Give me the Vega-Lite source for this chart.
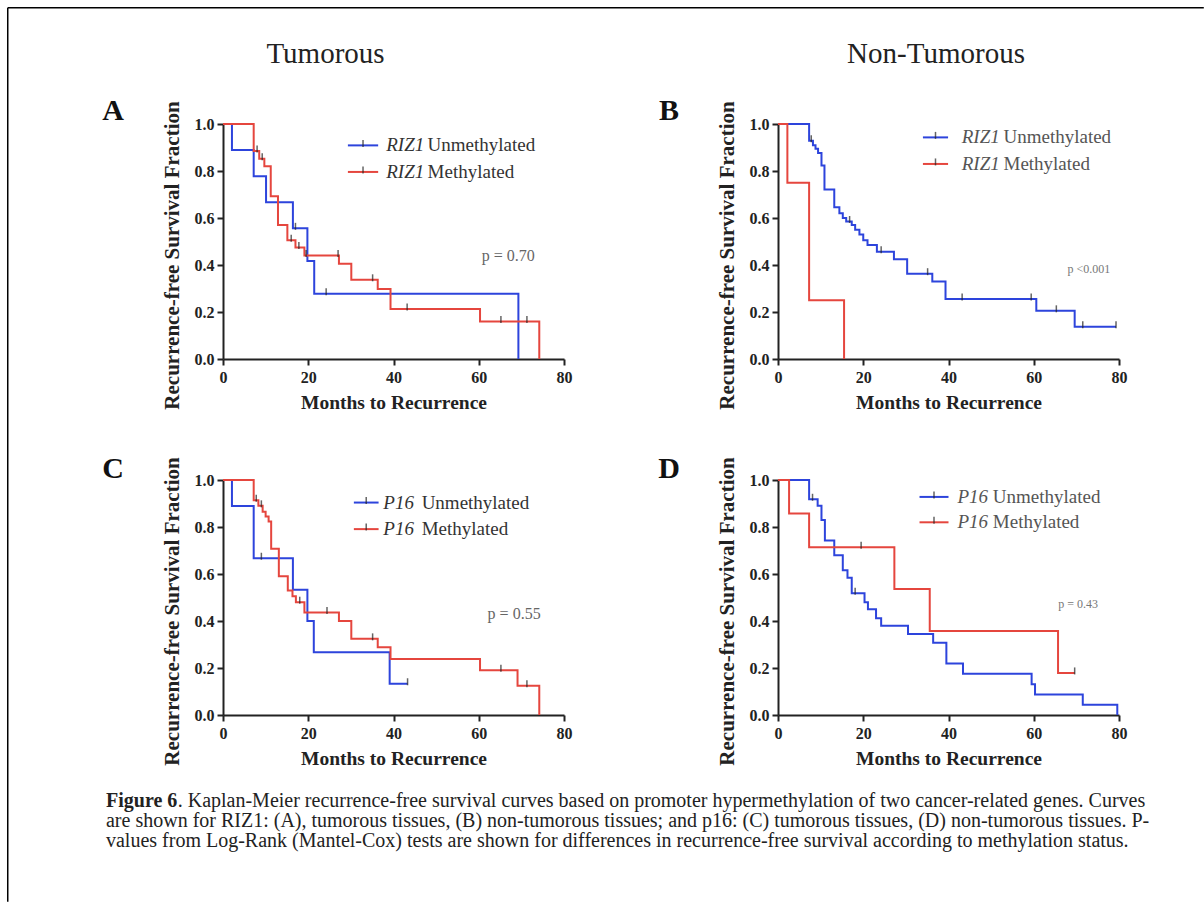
{
"$schema":"https://vega.github.io/schema/vega-lite/v6.json",
"padding":{"left":6,"top":6,"right":0,"bottom":0},
"background":"white",
"bounds":"flush",
"columns":2,
"spacing":{"row":121,"column":214},
"datasets":{
"km":[
{"panel":"A","group":"Unmethylated","t":0,"s":1},{"panel":"A","group":"Unmethylated","t":2.1,"s":0.889},{"panel":"A","group":"Unmethylated","t":7.2,"s":0.778},{"panel":"A","group":"Unmethylated","t":10.1,"s":0.667},{"panel":"A","group":"Unmethylated","t":16.4,"s":0.556},{"panel":"A","group":"Unmethylated","t":19.8,"s":0.417},{"panel":"A","group":"Unmethylated","t":21.4,"s":0.278},{"panel":"A","group":"Unmethylated","t":69.3,"s":0},
{"panel":"A","group":"Methylated","t":0,"s":1},{"panel":"A","group":"Methylated","t":7.2,"s":0.885},{"panel":"A","group":"Methylated","t":8.5,"s":0.852},{"panel":"A","group":"Methylated","t":9.7,"s":0.82},{"panel":"A","group":"Methylated","t":11.2,"s":0.693},{"panel":"A","group":"Methylated","t":12.9,"s":0.57},{"panel":"A","group":"Methylated","t":15.1,"s":0.505},{"panel":"A","group":"Methylated","t":17.0,"s":0.475},{"panel":"A","group":"Methylated","t":19.1,"s":0.44},{"panel":"A","group":"Methylated","t":27.2,"s":0.405},{"panel":"A","group":"Methylated","t":30.1,"s":0.337},{"panel":"A","group":"Methylated","t":36.3,"s":0.298},{"panel":"A","group":"Methylated","t":39.3,"s":0.213},{"panel":"A","group":"Methylated","t":60.3,"s":0.16},{"panel":"A","group":"Methylated","t":74.2,"s":0},
{"panel":"B","group":"Unmethylated","t":0,"s":1},{"panel":"B","group":"Unmethylated","t":7.3,"s":0.929},{"panel":"B","group":"Unmethylated","t":8.2,"s":0.91},{"panel":"B","group":"Unmethylated","t":8.8,"s":0.895},{"panel":"B","group":"Unmethylated","t":9.4,"s":0.877},{"panel":"B","group":"Unmethylated","t":10.2,"s":0.823},{"panel":"B","group":"Unmethylated","t":10.9,"s":0.721},{"panel":"B","group":"Unmethylated","t":13.2,"s":0.646},{"panel":"B","group":"Unmethylated","t":14.4,"s":0.62},{"panel":"B","group":"Unmethylated","t":15.2,"s":0.6},{"panel":"B","group":"Unmethylated","t":16.0,"s":0.585},{"panel":"B","group":"Unmethylated","t":17.3,"s":0.57},{"panel":"B","group":"Unmethylated","t":18.1,"s":0.55},{"panel":"B","group":"Unmethylated","t":19.1,"s":0.53},{"panel":"B","group":"Unmethylated","t":20.0,"s":0.505},{"panel":"B","group":"Unmethylated","t":21.0,"s":0.485},{"panel":"B","group":"Unmethylated","t":23.2,"s":0.456},{"panel":"B","group":"Unmethylated","t":27.2,"s":0.424},{"panel":"B","group":"Unmethylated","t":30.3,"s":0.363},{"panel":"B","group":"Unmethylated","t":36.2,"s":0.33},{"panel":"B","group":"Unmethylated","t":39.3,"s":0.255},{"panel":"B","group":"Unmethylated","t":60.6,"s":0.205},{"panel":"B","group":"Unmethylated","t":69.6,"s":0.137},{"panel":"B","group":"Unmethylated","t":79.3,"s":0.137},
{"panel":"B","group":"Methylated","t":0,"s":1},{"panel":"B","group":"Methylated","t":2.2,"s":0.75},{"panel":"B","group":"Methylated","t":7.3,"s":0.25},{"panel":"B","group":"Methylated","t":15.5,"s":0},
{"panel":"C","group":"Unmethylated","t":0,"s":1},{"panel":"C","group":"Unmethylated","t":2.1,"s":0.889},{"panel":"C","group":"Unmethylated","t":7.2,"s":0.667},{"panel":"C","group":"Unmethylated","t":16.4,"s":0.533},{"panel":"C","group":"Unmethylated","t":19.8,"s":0.4},{"panel":"C","group":"Unmethylated","t":21.3,"s":0.267},{"panel":"C","group":"Unmethylated","t":39.1,"s":0.133},{"panel":"C","group":"Unmethylated","t":43.3,"s":0.133},
{"panel":"C","group":"Methylated","t":0,"s":1},{"panel":"C","group":"Methylated","t":7.2,"s":0.914},{"panel":"C","group":"Methylated","t":8.3,"s":0.89},{"panel":"C","group":"Methylated","t":9.3,"s":0.865},{"panel":"C","group":"Methylated","t":10.0,"s":0.845},{"panel":"C","group":"Methylated","t":10.7,"s":0.823},{"panel":"C","group":"Methylated","t":11.3,"s":0.707},{"panel":"C","group":"Methylated","t":13.1,"s":0.59},{"panel":"C","group":"Methylated","t":15.2,"s":0.53},{"panel":"C","group":"Methylated","t":16.3,"s":0.505},{"panel":"C","group":"Methylated","t":17.1,"s":0.48},{"panel":"C","group":"Methylated","t":19.1,"s":0.436},{"panel":"C","group":"Methylated","t":27.2,"s":0.4},{"panel":"C","group":"Methylated","t":30.1,"s":0.324},{"panel":"C","group":"Methylated","t":36.3,"s":0.288},{"panel":"C","group":"Methylated","t":39.3,"s":0.238},{"panel":"C","group":"Methylated","t":60.3,"s":0.19},{"panel":"C","group":"Methylated","t":69.1,"s":0.124},{"panel":"C","group":"Methylated","t":74.2,"s":0},
{"panel":"D","group":"Unmethylated","t":0,"s":1},{"panel":"D","group":"Unmethylated","t":7.3,"s":0.918},{"panel":"D","group":"Unmethylated","t":9.3,"s":0.89},{"panel":"D","group":"Unmethylated","t":10.2,"s":0.83},{"panel":"D","group":"Unmethylated","t":11.0,"s":0.743},{"panel":"D","group":"Unmethylated","t":13.2,"s":0.68},{"panel":"D","group":"Unmethylated","t":15.2,"s":0.616},{"panel":"D","group":"Unmethylated","t":16.3,"s":0.584},{"panel":"D","group":"Unmethylated","t":17.3,"s":0.518},{"panel":"D","group":"Unmethylated","t":20.3,"s":0.48},{"panel":"D","group":"Unmethylated","t":21.1,"s":0.45},{"panel":"D","group":"Unmethylated","t":23.0,"s":0.412},{"panel":"D","group":"Unmethylated","t":24.2,"s":0.38},{"panel":"D","group":"Unmethylated","t":30.5,"s":0.345},{"panel":"D","group":"Unmethylated","t":36.4,"s":0.307},{"panel":"D","group":"Unmethylated","t":39.5,"s":0.219},{"panel":"D","group":"Unmethylated","t":43.4,"s":0.176},{"panel":"D","group":"Unmethylated","t":59.5,"s":0.131},{"panel":"D","group":"Unmethylated","t":60.3,"s":0.087},{"panel":"D","group":"Unmethylated","t":71.5,"s":0.044},{"panel":"D","group":"Unmethylated","t":79.6,"s":0},
{"panel":"D","group":"Methylated","t":0,"s":1},{"panel":"D","group":"Methylated","t":2.6,"s":0.857},{"panel":"D","group":"Methylated","t":7.3,"s":0.714},{"panel":"D","group":"Methylated","t":27.3,"s":0.536},{"panel":"D","group":"Methylated","t":35.6,"s":0.357},{"panel":"D","group":"Methylated","t":65.7,"s":0.179},{"panel":"D","group":"Methylated","t":69.6,"s":0.179}
],
"cens":[
{"panel":"A","t":17.0,"s":0.556},{"panel":"A","t":24.2,"s":0.278},{"panel":"A","t":8.0,"s":0.885},{"panel":"A","t":9.2,"s":0.852},{"panel":"A","t":16.0,"s":0.505},{"panel":"A","t":17.8,"s":0.475},{"panel":"A","t":19.5,"s":0.44},{"panel":"A","t":27.0,"s":0.44},{"panel":"A","t":35.1,"s":0.337},{"panel":"A","t":43.2,"s":0.213},{"panel":"A","t":65.2,"s":0.16},{"panel":"A","t":71.3,"s":0.16},
{"panel":"B","t":7.8,"s":0.929},{"panel":"B","t":16.8,"s":0.585},{"panel":"B","t":24.2,"s":0.456},{"panel":"B","t":35.1,"s":0.363},{"panel":"B","t":43.2,"s":0.255},{"panel":"B","t":59.4,"s":0.255},{"panel":"B","t":65.3,"s":0.205},{"panel":"B","t":71.5,"s":0.137},{"panel":"B","t":79.3,"s":0.137},
{"panel":"C","t":9.0,"s":0.667},{"panel":"C","t":43.3,"s":0.133},{"panel":"C","t":7.8,"s":0.914},{"panel":"C","t":9.0,"s":0.89},{"panel":"C","t":18.0,"s":0.48},{"panel":"C","t":24.4,"s":0.436},{"panel":"C","t":35.1,"s":0.324},{"panel":"C","t":65.2,"s":0.19},{"panel":"C","t":71.3,"s":0.124},
{"panel":"D","t":8.1,"s":0.918},{"panel":"D","t":18.1,"s":0.518},{"panel":"D","t":19.5,"s":0.714},{"panel":"D","t":69.6,"s":0.179}
],
"ann":[
{"panel":"A","kind":"frame"},
{"panel":"A","kind":"letter","text":"A"},{"panel":"A","kind":"head","text":"Tumorous"},{"panel":"A","kind":"p","text":"p = 0.70"},{"panel":"A","kind":"u","gene":"RIZ1","text":"Unmethylated"},{"panel":"A","kind":"m","gene":"RIZ1","text":"Methylated"},
{"panel":"B","kind":"letter","text":"B"},{"panel":"B","kind":"head","text":"Non-Tumorous"},{"panel":"B","kind":"p","text":"p <0.001"},{"panel":"B","kind":"u","gene":"RIZ1","text":"Unmethylated"},{"panel":"B","kind":"m","gene":"RIZ1","text":"Methylated"},
{"panel":"C","kind":"letter","text":"C"},{"panel":"C","kind":"p","text":"p = 0.55"},{"panel":"C","kind":"u","gene":"P16","text":"Unmethylated"},{"panel":"C","kind":"m","gene":"P16","text":"Methylated"},
{"panel":"C","kind":"fig","text":"Figure 6"},
{"panel":"C","kind":"cap1","text":". Kaplan-Meier recurrence-free survival curves based on promoter hypermethylation of two cancer-related genes. Curves"},
{"panel":"C","kind":"cap2","text":"are shown for RIZ1: (A), tumorous tissues, (B) non-tumorous tissues; and p16: (C) tumorous tissues, (D) non-tumorous tissues. P-"},
{"panel":"C","kind":"cap3","text":"values from Log-Rank (Mantel-Cox) tests are shown for differences in recurrence-free survival according to methylation status."},
{"panel":"D","kind":"letter","text":"D"},{"panel":"D","kind":"p","text":"p = 0.43"},{"panel":"D","kind":"u","gene":"P16","text":"Unmethylated"},{"panel":"D","kind":"m","gene":"P16","text":"Methylated"}
]
},
"concat":[
{"width":341,"height":235,"layer":[
{"data":{"name":"km"},"transform":[{"filter":"datum.panel=='A'"}],"mark":{"type":"line","interpolate":"step-after","strokeWidth":2},
 "encoding":{"x":{"field":"t","type":"quantitative","scale":{"domain":[0,80]},"axis":{"title":"Months to Recurrence","values":[0,20,40,60,80],"format":"d","labelPadding":4,"titlePadding":8,"titleFontSize":19.5}},
 "y":{"field":"s","type":"quantitative","scale":{"domain":[0,1]},"axis":{"title":"Recurrence-free Survival Fraction","values":[0,0.2,0.4,0.6,0.8,1],"format":".1f","labelPadding":3,"titlePadding":12,"titleFontSize":21,"titleY":131}},
 "color":{"field":"group","type":"nominal","scale":{"domain":["Unmethylated","Methylated"],"range":["#2d44dc","#e5463e"]},"legend":null}}},
{"data":{"name":"cens"},"transform":[{"filter":"datum.panel=='A'"}],"mark":{"type":"tick","orient":"vertical","size":7,"thickness":1.5,"color":"#222","yOffset":-2},
 "encoding":{"x":{"field":"t","type":"quantitative","scale":{"domain":[0,80]}},"y":{"field":"s","type":"quantitative","scale":{"domain":[0,1]}}}},
{"data":{"name":"ann"},"transform":[{"filter":"datum.kind=='frame'"}],"mark":{"type":"rule","strokeWidth":1.5,"color":"#000"},
 "encoding":{"x":{"datum":-50.5,"type":"quantitative","scale":{"domain":[0,80]}},"x2":{"datum":230.1},"y":{"datum":1.4947,"type":"quantitative","scale":{"domain":[0,1]}}}},
{"data":{"name":"ann"},"transform":[{"filter":"datum.kind=='frame'"}],"mark":{"type":"rule","strokeWidth":1.5,"color":"#000"},
 "encoding":{"x":{"datum":-50.5,"type":"quantitative","scale":{"domain":[0,80]}},"y":{"datum":1.4947,"type":"quantitative","scale":{"domain":[0,1]}},"y2":{"datum":-2.31}}},
{"data":{"name":"ann"},"transform":[{"filter":"datum.panel=='A' && datum.kind=='letter'"}],"mark":{"type":"text","fontWeight":"bold","fontSize":30,"align":"center","color":"#111"},
 "encoding":{"x":{"datum":-25.8,"type":"quantitative","scale":{"domain":[0,80]}},"y":{"datum":1.0553,"type":"quantitative","scale":{"domain":[0,1]}},"text":{"field":"text"}}},
{"data":{"name":"ann"},"transform":[{"filter":"datum.panel=='A' && datum.kind=='head'"}],"mark":{"type":"text","fontSize":29,"align":"center","color":"#222"},
 "encoding":{"x":{"datum":24.05,"type":"quantitative","scale":{"domain":[0,80]}},"y":{"datum":1.2966,"type":"quantitative","scale":{"domain":[0,1]}},"text":{"field":"text"}}},
{"data":{"name":"ann"},"transform":[{"filter":"datum.panel=='A' && datum.kind=='p'"}],"mark":{"type":"text","fontSize":16,"align":"center","baseline":"middle","color":"#666"},
 "encoding":{"x":{"datum":66.9,"type":"quantitative","scale":{"domain":[0,80]}},"y":{"datum":0.438,"type":"quantitative","scale":{"domain":[0,1]}},"text":{"field":"text"}}},
{"data":{"name":"ann"},"transform":[{"filter":"datum.panel=='A' && datum.kind=='u'"}],"mark":{"type":"rule","strokeWidth":2,"color":"#2d44dc"},
 "encoding":{"x":{"datum":29.3,"type":"quantitative","scale":{"domain":[0,80]}},"x2":{"datum":36.4},"y":{"datum":0.909,"type":"quantitative","scale":{"domain":[0,1]}}}},
{"data":{"name":"ann"},"transform":[{"filter":"datum.panel=='A' && datum.kind=='u'"}],"mark":{"type":"tick","orient":"vertical","size":7,"thickness":1.5,"color":"#222","yOffset":-2},
 "encoding":{"x":{"datum":32.85,"type":"quantitative","scale":{"domain":[0,80]}},"y":{"datum":0.909,"type":"quantitative","scale":{"domain":[0,1]}}}},
{"data":{"name":"ann"},"transform":[{"filter":"datum.panel=='A' && datum.kind=='u'"}],"mark":{"type":"text","fontStyle":"italic","fontSize":19,"align":"left","baseline":"middle","color":"#333"},
 "encoding":{"x":{"datum":38.3,"type":"quantitative","scale":{"domain":[0,80]}},"y":{"datum":0.909,"type":"quantitative","scale":{"domain":[0,1]}},"text":{"field":"gene"}}},
{"data":{"name":"ann"},"transform":[{"filter":"datum.panel=='A' && datum.kind=='u'"}],"mark":{"type":"text","fontSize":19,"align":"left","baseline":"middle","color":"#333"},
 "encoding":{"x":{"datum":48.0,"type":"quantitative","scale":{"domain":[0,80]}},"y":{"datum":0.909,"type":"quantitative","scale":{"domain":[0,1]}},"text":{"field":"text"}}},
{"data":{"name":"ann"},"transform":[{"filter":"datum.panel=='A' && datum.kind=='m'"}],"mark":{"type":"rule","strokeWidth":2,"color":"#e5463e"},
 "encoding":{"x":{"datum":29.3,"type":"quantitative","scale":{"domain":[0,80]}},"x2":{"datum":36.4},"y":{"datum":0.796,"type":"quantitative","scale":{"domain":[0,1]}}}},
{"data":{"name":"ann"},"transform":[{"filter":"datum.panel=='A' && datum.kind=='m'"}],"mark":{"type":"tick","orient":"vertical","size":7,"thickness":1.5,"color":"#222","yOffset":-2},
 "encoding":{"x":{"datum":32.85,"type":"quantitative","scale":{"domain":[0,80]}},"y":{"datum":0.796,"type":"quantitative","scale":{"domain":[0,1]}}}},
{"data":{"name":"ann"},"transform":[{"filter":"datum.panel=='A' && datum.kind=='m'"}],"mark":{"type":"text","fontStyle":"italic","fontSize":19,"align":"left","baseline":"middle","color":"#333"},
 "encoding":{"x":{"datum":38.3,"type":"quantitative","scale":{"domain":[0,80]}},"y":{"datum":0.796,"type":"quantitative","scale":{"domain":[0,1]}},"text":{"field":"gene"}}},
{"data":{"name":"ann"},"transform":[{"filter":"datum.panel=='A' && datum.kind=='m'"}],"mark":{"type":"text","fontSize":19,"align":"left","baseline":"middle","color":"#333"},
 "encoding":{"x":{"datum":48.0,"type":"quantitative","scale":{"domain":[0,80]}},"y":{"datum":0.796,"type":"quantitative","scale":{"domain":[0,1]}},"text":{"field":"text"}}}
]},
{"width":341,"height":235,"layer":[
{"data":{"name":"km"},"transform":[{"filter":"datum.panel=='B'"}],"mark":{"type":"line","interpolate":"step-after","strokeWidth":2},
 "encoding":{"x":{"field":"t","type":"quantitative","scale":{"domain":[0,80]},"axis":{"title":"Months to Recurrence","values":[0,20,40,60,80],"format":"d","labelPadding":4,"titlePadding":8,"titleFontSize":19.5}},
 "y":{"field":"s","type":"quantitative","scale":{"domain":[0,1]},"axis":{"title":"Recurrence-free Survival Fraction","values":[0,0.2,0.4,0.6,0.8,1],"format":".1f","labelPadding":3,"titlePadding":12,"titleFontSize":21,"titleY":131}},
 "color":{"field":"group","type":"nominal","scale":{"domain":["Unmethylated","Methylated"],"range":["#2d44dc","#e5463e"]},"legend":null}}},
{"data":{"name":"cens"},"transform":[{"filter":"datum.panel=='B'"}],"mark":{"type":"tick","orient":"vertical","size":7,"thickness":1.5,"color":"#222","yOffset":-2},
 "encoding":{"x":{"field":"t","type":"quantitative","scale":{"domain":[0,80]}},"y":{"field":"s","type":"quantitative","scale":{"domain":[0,1]}}}},
{"data":{"name":"ann"},"transform":[{"filter":"datum.panel=='B' && datum.kind=='letter'"}],"mark":{"type":"text","fontWeight":"bold","fontSize":30,"align":"center","color":"#111"},
 "encoding":{"x":{"datum":-25.57,"type":"quantitative","scale":{"domain":[0,80]}},"y":{"datum":1.0553,"type":"quantitative","scale":{"domain":[0,1]}},"text":{"field":"text"}}},
{"data":{"name":"ann"},"transform":[{"filter":"datum.panel=='B' && datum.kind=='head'"}],"mark":{"type":"text","fontSize":29,"align":"center","color":"#222"},
 "encoding":{"x":{"datum":37.07,"type":"quantitative","scale":{"domain":[0,80]}},"y":{"datum":1.2966,"type":"quantitative","scale":{"domain":[0,1]}},"text":{"field":"text"}}},
{"data":{"name":"ann"},"transform":[{"filter":"datum.panel=='B' && datum.kind=='p'"}],"mark":{"type":"text","fontSize":12,"align":"center","baseline":"middle","color":"#777"},
 "encoding":{"x":{"datum":72.96,"type":"quantitative","scale":{"domain":[0,80]}},"y":{"datum":0.383,"type":"quantitative","scale":{"domain":[0,1]}},"text":{"field":"text"}}},
{"data":{"name":"ann"},"transform":[{"filter":"datum.panel=='B' && datum.kind=='u'"}],"mark":{"type":"rule","strokeWidth":2,"color":"#2d44dc"},
 "encoding":{"x":{"datum":34.0,"type":"quantitative","scale":{"domain":[0,80]}},"x2":{"datum":39.9},"y":{"datum":0.943,"type":"quantitative","scale":{"domain":[0,1]}}}},
{"data":{"name":"ann"},"transform":[{"filter":"datum.panel=='B' && datum.kind=='u'"}],"mark":{"type":"tick","orient":"vertical","size":7,"thickness":1.5,"color":"#222","yOffset":-2},
 "encoding":{"x":{"datum":36.95,"type":"quantitative","scale":{"domain":[0,80]}},"y":{"datum":0.943,"type":"quantitative","scale":{"domain":[0,1]}}}},
{"data":{"name":"ann"},"transform":[{"filter":"datum.panel=='B' && datum.kind=='u'"}],"mark":{"type":"text","fontStyle":"italic","fontSize":19,"align":"left","baseline":"middle","color":"#555"},
 "encoding":{"x":{"datum":43.1,"type":"quantitative","scale":{"domain":[0,80]}},"y":{"datum":0.943,"type":"quantitative","scale":{"domain":[0,1]}},"text":{"field":"gene"}}},
{"data":{"name":"ann"},"transform":[{"filter":"datum.panel=='B' && datum.kind=='u'"}],"mark":{"type":"text","fontSize":19,"align":"left","baseline":"middle","color":"#555"},
 "encoding":{"x":{"datum":52.9,"type":"quantitative","scale":{"domain":[0,80]}},"y":{"datum":0.943,"type":"quantitative","scale":{"domain":[0,1]}},"text":{"field":"text"}}},
{"data":{"name":"ann"},"transform":[{"filter":"datum.panel=='B' && datum.kind=='m'"}],"mark":{"type":"rule","strokeWidth":2,"color":"#e5463e"},
 "encoding":{"x":{"datum":34.0,"type":"quantitative","scale":{"domain":[0,80]}},"x2":{"datum":39.9},"y":{"datum":0.83,"type":"quantitative","scale":{"domain":[0,1]}}}},
{"data":{"name":"ann"},"transform":[{"filter":"datum.panel=='B' && datum.kind=='m'"}],"mark":{"type":"tick","orient":"vertical","size":7,"thickness":1.5,"color":"#222","yOffset":-2},
 "encoding":{"x":{"datum":36.95,"type":"quantitative","scale":{"domain":[0,80]}},"y":{"datum":0.83,"type":"quantitative","scale":{"domain":[0,1]}}}},
{"data":{"name":"ann"},"transform":[{"filter":"datum.panel=='B' && datum.kind=='m'"}],"mark":{"type":"text","fontStyle":"italic","fontSize":19,"align":"left","baseline":"middle","color":"#555"},
 "encoding":{"x":{"datum":43.1,"type":"quantitative","scale":{"domain":[0,80]}},"y":{"datum":0.83,"type":"quantitative","scale":{"domain":[0,1]}},"text":{"field":"gene"}}},
{"data":{"name":"ann"},"transform":[{"filter":"datum.panel=='B' && datum.kind=='m'"}],"mark":{"type":"text","fontSize":19,"align":"left","baseline":"middle","color":"#555"},
 "encoding":{"x":{"datum":52.9,"type":"quantitative","scale":{"domain":[0,80]}},"y":{"datum":0.83,"type":"quantitative","scale":{"domain":[0,1]}},"text":{"field":"text"}}}
]},
{"width":341,"height":235,"layer":[
{"data":{"name":"km"},"transform":[{"filter":"datum.panel=='C'"}],"mark":{"type":"line","interpolate":"step-after","strokeWidth":2},
 "encoding":{"x":{"field":"t","type":"quantitative","scale":{"domain":[0,80]},"axis":{"title":"Months to Recurrence","values":[0,20,40,60,80],"format":"d","labelPadding":4,"titlePadding":8,"titleFontSize":19.5}},
 "y":{"field":"s","type":"quantitative","scale":{"domain":[0,1]},"axis":{"title":"Recurrence-free Survival Fraction","values":[0,0.2,0.4,0.6,0.8,1],"format":".1f","labelPadding":3,"titlePadding":12,"titleFontSize":21,"titleY":131}},
 "color":{"field":"group","type":"nominal","scale":{"domain":["Unmethylated","Methylated"],"range":["#2d44dc","#e5463e"]},"legend":null}}},
{"data":{"name":"cens"},"transform":[{"filter":"datum.panel=='C'"}],"mark":{"type":"tick","orient":"vertical","size":7,"thickness":1.5,"color":"#222","yOffset":-2},
 "encoding":{"x":{"field":"t","type":"quantitative","scale":{"domain":[0,80]}},"y":{"field":"s","type":"quantitative","scale":{"domain":[0,1]}}}},
{"data":{"name":"ann"},"transform":[{"filter":"datum.panel=='C' && datum.kind=='letter'"}],"mark":{"type":"text","fontWeight":"bold","fontSize":30,"align":"center","color":"#111"},
 "encoding":{"x":{"datum":-25.8,"type":"quantitative","scale":{"domain":[0,80]}},"y":{"datum":1.045,"type":"quantitative","scale":{"domain":[0,1]}},"text":{"field":"text"}}},
{"data":{"name":"ann"},"transform":[{"filter":"datum.panel=='C' && datum.kind=='p'"}],"mark":{"type":"text","fontSize":16,"align":"center","baseline":"middle","color":"#666"},
 "encoding":{"x":{"datum":68.3,"type":"quantitative","scale":{"domain":[0,80]}},"y":{"datum":0.43,"type":"quantitative","scale":{"domain":[0,1]}},"text":{"field":"text"}}},
{"data":{"name":"ann"},"transform":[{"filter":"datum.panel=='C' && datum.kind=='u'"}],"mark":{"type":"rule","strokeWidth":2,"color":"#2d44dc"},
 "encoding":{"x":{"datum":30.7,"type":"quantitative","scale":{"domain":[0,80]}},"x2":{"datum":36.5},"y":{"datum":0.904,"type":"quantitative","scale":{"domain":[0,1]}}}},
{"data":{"name":"ann"},"transform":[{"filter":"datum.panel=='C' && datum.kind=='u'"}],"mark":{"type":"tick","orient":"vertical","size":7,"thickness":1.5,"color":"#222","yOffset":-2},
 "encoding":{"x":{"datum":33.6,"type":"quantitative","scale":{"domain":[0,80]}},"y":{"datum":0.904,"type":"quantitative","scale":{"domain":[0,1]}}}},
{"data":{"name":"ann"},"transform":[{"filter":"datum.panel=='C' && datum.kind=='u'"}],"mark":{"type":"text","fontStyle":"italic","fontSize":19,"align":"left","baseline":"middle","color":"#333"},
 "encoding":{"x":{"datum":37.6,"type":"quantitative","scale":{"domain":[0,80]}},"y":{"datum":0.904,"type":"quantitative","scale":{"domain":[0,1]}},"text":{"field":"gene"}}},
{"data":{"name":"ann"},"transform":[{"filter":"datum.panel=='C' && datum.kind=='u'"}],"mark":{"type":"text","fontSize":19,"align":"left","baseline":"middle","color":"#333"},
 "encoding":{"x":{"datum":46.6,"type":"quantitative","scale":{"domain":[0,80]}},"y":{"datum":0.904,"type":"quantitative","scale":{"domain":[0,1]}},"text":{"field":"text"}}},
{"data":{"name":"ann"},"transform":[{"filter":"datum.panel=='C' && datum.kind=='m'"}],"mark":{"type":"rule","strokeWidth":2,"color":"#e5463e"},
 "encoding":{"x":{"datum":30.7,"type":"quantitative","scale":{"domain":[0,80]}},"x2":{"datum":36.5},"y":{"datum":0.791,"type":"quantitative","scale":{"domain":[0,1]}}}},
{"data":{"name":"ann"},"transform":[{"filter":"datum.panel=='C' && datum.kind=='m'"}],"mark":{"type":"tick","orient":"vertical","size":7,"thickness":1.5,"color":"#222","yOffset":-2},
 "encoding":{"x":{"datum":33.6,"type":"quantitative","scale":{"domain":[0,80]}},"y":{"datum":0.791,"type":"quantitative","scale":{"domain":[0,1]}}}},
{"data":{"name":"ann"},"transform":[{"filter":"datum.panel=='C' && datum.kind=='m'"}],"mark":{"type":"text","fontStyle":"italic","fontSize":19,"align":"left","baseline":"middle","color":"#333"},
 "encoding":{"x":{"datum":37.6,"type":"quantitative","scale":{"domain":[0,80]}},"y":{"datum":0.791,"type":"quantitative","scale":{"domain":[0,1]}},"text":{"field":"gene"}}},
{"data":{"name":"ann"},"transform":[{"filter":"datum.panel=='C' && datum.kind=='m'"}],"mark":{"type":"text","fontSize":19,"align":"left","baseline":"middle","color":"#333"},
 "encoding":{"x":{"datum":46.6,"type":"quantitative","scale":{"domain":[0,80]}},"y":{"datum":0.791,"type":"quantitative","scale":{"domain":[0,1]}},"text":{"field":"text"}}},
{"data":{"name":"ann"},"transform":[{"filter":"datum.kind=='fig'"}],"mark":{"type":"text","fontWeight":"bold","fontSize":20,"align":"left","baseline":"middle","color":"#222"},
 "encoding":{"x":{"datum":-27.45,"type":"quantitative","scale":{"domain":[0,80]}},"y":{"datum":-0.366,"type":"quantitative","scale":{"domain":[0,1]}},"text":{"field":"text"}}},
{"data":{"name":"ann"},"transform":[{"filter":"datum.kind=='cap1'"}],"mark":{"type":"text","fontSize":20,"align":"left","baseline":"middle","color":"#222"},
 "encoding":{"x":{"datum":-10.63,"type":"quantitative","scale":{"domain":[0,80]}},"y":{"datum":-0.366,"type":"quantitative","scale":{"domain":[0,1]}},"text":{"field":"text"}}},
{"data":{"name":"ann"},"transform":[{"filter":"datum.kind=='cap2'"}],"mark":{"type":"text","fontSize":20,"align":"left","baseline":"middle","color":"#222"},
 "encoding":{"x":{"datum":-27.45,"type":"quantitative","scale":{"domain":[0,80]}},"y":{"datum":-0.451,"type":"quantitative","scale":{"domain":[0,1]}},"text":{"field":"text"}}},
{"data":{"name":"ann"},"transform":[{"filter":"datum.kind=='cap3'"}],"mark":{"type":"text","fontSize":20,"align":"left","baseline":"middle","color":"#222"},
 "encoding":{"x":{"datum":-27.45,"type":"quantitative","scale":{"domain":[0,80]}},"y":{"datum":-0.536,"type":"quantitative","scale":{"domain":[0,1]}},"text":{"field":"text"}}}
]},
{"width":341,"height":235,"layer":[
{"data":{"name":"km"},"transform":[{"filter":"datum.panel=='D'"}],"mark":{"type":"line","interpolate":"step-after","strokeWidth":2},
 "encoding":{"x":{"field":"t","type":"quantitative","scale":{"domain":[0,80]},"axis":{"title":"Months to Recurrence","values":[0,20,40,60,80],"format":"d","labelPadding":4,"titlePadding":8,"titleFontSize":19.5}},
 "y":{"field":"s","type":"quantitative","scale":{"domain":[0,1]},"axis":{"title":"Recurrence-free Survival Fraction","values":[0,0.2,0.4,0.6,0.8,1],"format":".1f","labelPadding":3,"titlePadding":12,"titleFontSize":21,"titleY":131}},
 "color":{"field":"group","type":"nominal","scale":{"domain":["Unmethylated","Methylated"],"range":["#2d44dc","#e5463e"]},"legend":null}}},
{"data":{"name":"cens"},"transform":[{"filter":"datum.panel=='D'"}],"mark":{"type":"tick","orient":"vertical","size":7,"thickness":1.5,"color":"#222","yOffset":-2},
 "encoding":{"x":{"field":"t","type":"quantitative","scale":{"domain":[0,80]}},"y":{"field":"s","type":"quantitative","scale":{"domain":[0,1]}}}},
{"data":{"name":"ann"},"transform":[{"filter":"datum.panel=='D' && datum.kind=='letter'"}],"mark":{"type":"text","fontWeight":"bold","fontSize":30,"align":"center","color":"#111"},
 "encoding":{"x":{"datum":-25.57,"type":"quantitative","scale":{"domain":[0,80]}},"y":{"datum":1.045,"type":"quantitative","scale":{"domain":[0,1]}},"text":{"field":"text"}}},
{"data":{"name":"ann"},"transform":[{"filter":"datum.panel=='D' && datum.kind=='p'"}],"mark":{"type":"text","fontSize":12,"align":"center","baseline":"middle","color":"#777"},
 "encoding":{"x":{"datum":70.4,"type":"quantitative","scale":{"domain":[0,80]}},"y":{"datum":0.472,"type":"quantitative","scale":{"domain":[0,1]}},"text":{"field":"text"}}},
{"data":{"name":"ann"},"transform":[{"filter":"datum.panel=='D' && datum.kind=='u'"}],"mark":{"type":"rule","strokeWidth":2,"color":"#2d44dc"},
 "encoding":{"x":{"datum":33.2,"type":"quantitative","scale":{"domain":[0,80]}},"x2":{"datum":40.0},"y":{"datum":0.928,"type":"quantitative","scale":{"domain":[0,1]}}}},
{"data":{"name":"ann"},"transform":[{"filter":"datum.panel=='D' && datum.kind=='u'"}],"mark":{"type":"tick","orient":"vertical","size":7,"thickness":1.5,"color":"#222","yOffset":-2},
 "encoding":{"x":{"datum":36.6,"type":"quantitative","scale":{"domain":[0,80]}},"y":{"datum":0.928,"type":"quantitative","scale":{"domain":[0,1]}}}},
{"data":{"name":"ann"},"transform":[{"filter":"datum.panel=='D' && datum.kind=='u'"}],"mark":{"type":"text","fontStyle":"italic","fontSize":19,"align":"left","baseline":"middle","color":"#555"},
 "encoding":{"x":{"datum":42.1,"type":"quantitative","scale":{"domain":[0,80]}},"y":{"datum":0.928,"type":"quantitative","scale":{"domain":[0,1]}},"text":{"field":"gene"}}},
{"data":{"name":"ann"},"transform":[{"filter":"datum.panel=='D' && datum.kind=='u'"}],"mark":{"type":"text","fontSize":19,"align":"left","baseline":"middle","color":"#555"},
 "encoding":{"x":{"datum":50.4,"type":"quantitative","scale":{"domain":[0,80]}},"y":{"datum":0.928,"type":"quantitative","scale":{"domain":[0,1]}},"text":{"field":"text"}}},
{"data":{"name":"ann"},"transform":[{"filter":"datum.panel=='D' && datum.kind=='m'"}],"mark":{"type":"rule","strokeWidth":2,"color":"#e5463e"},
 "encoding":{"x":{"datum":33.2,"type":"quantitative","scale":{"domain":[0,80]}},"x2":{"datum":40.0},"y":{"datum":0.82,"type":"quantitative","scale":{"domain":[0,1]}}}},
{"data":{"name":"ann"},"transform":[{"filter":"datum.panel=='D' && datum.kind=='m'"}],"mark":{"type":"tick","orient":"vertical","size":7,"thickness":1.5,"color":"#222","yOffset":-2},
 "encoding":{"x":{"datum":36.6,"type":"quantitative","scale":{"domain":[0,80]}},"y":{"datum":0.82,"type":"quantitative","scale":{"domain":[0,1]}}}},
{"data":{"name":"ann"},"transform":[{"filter":"datum.panel=='D' && datum.kind=='m'"}],"mark":{"type":"text","fontStyle":"italic","fontSize":19,"align":"left","baseline":"middle","color":"#555"},
 "encoding":{"x":{"datum":42.1,"type":"quantitative","scale":{"domain":[0,80]}},"y":{"datum":0.82,"type":"quantitative","scale":{"domain":[0,1]}},"text":{"field":"gene"}}},
{"data":{"name":"ann"},"transform":[{"filter":"datum.panel=='D' && datum.kind=='m'"}],"mark":{"type":"text","fontSize":19,"align":"left","baseline":"middle","color":"#555"},
 "encoding":{"x":{"datum":50.4,"type":"quantitative","scale":{"domain":[0,80]}},"y":{"datum":0.82,"type":"quantitative","scale":{"domain":[0,1]}},"text":{"field":"text"}}}
]}
],
"config":{
"view":{"stroke":null},
"font":"Liberation Serif",
"text":{"font":"Liberation Serif"},
"axis":{"grid":false,"domainColor":"#222","domainWidth":2,"tickColor":"#222","tickWidth":2,"tickSize":6,"labelFont":"Liberation Serif","labelFontWeight":"bold","labelFontSize":16,"labelColor":"#222","labelFlush":false,"labelOverlap":false,"titleFont":"Liberation Serif","titleFontWeight":"bold","titleColor":"#222"}
}
}
